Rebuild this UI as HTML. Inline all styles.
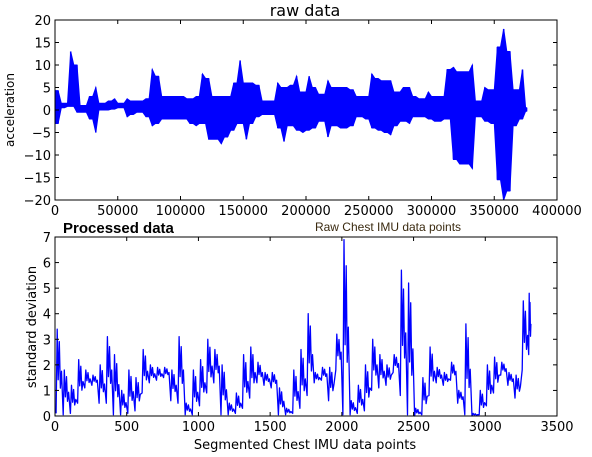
<!DOCTYPE html>
<html><head><meta charset="utf-8"><style>
html,body{margin:0;padding:0;background:#fff;}
svg{display:block;font-family:"DejaVu Sans","Liberation Sans",sans-serif;}
</style></head><body>
<svg id="fig" width="592" height="457" viewBox="0 0 592 457">
<text x="305" y="16" font-size="16" text-anchor="middle" fill="#000">raw data</text>
<text transform="translate(14,110) rotate(-90)" font-size="12" text-anchor="middle" fill="#000">acceleration</text>
<text x="388" y="231" font-size="12" text-anchor="middle" fill="#3a2a10" font-family="Liberation Sans, sans-serif">Raw Chest IMU data points</text>
<text x="63" y="233" font-size="15" font-weight="bold" fill="#000" font-family="Liberation Sans, sans-serif">Processed data</text>
<text transform="translate(36,327) rotate(-90)" font-size="13" text-anchor="middle" fill="#000">standard deviation</text>
<text x="305" y="449" font-size="13" text-anchor="middle" fill="#000">Segmented Chest IMU data points</text>
<g id="top"></g>
<g id="bot"></g>
</svg>
<script>
// raw data envelope, bins of 5000 samples
const rawBinStart = [0,5000,10000,15000,20000,25000,30000,35000,40000,45000,50000,55000,60000,65000,70000,75000,80000,85000,90000,95000,100000,105000,110000,115000,120000,125000,130000,135000,140000,145000,150000,155000,160000,165000,170000,175000,180000,185000,190000,195000,200000,205000,210000,215000,220000,225000,230000,235000,240000,245000,250000,255000,260000,265000,270000,275000,280000,285000,290000,295000,300000,305000,310000,315000,320000,325000,330000,335000,340000,345000,350000,355000,360000,365000,370000,375000];
const rawMax = [4.3,1.5,13,10,1,3,5,1.5,2,2.5,1.5,2.5,2,2,2.5,9,7.5,3,3,3,3,2.5,3,8,7,3,3,3,6,11,6,6,5.5,2,2,6,5,5.5,7.5,4,7.5,5,3.5,6.5,5,5,5,4.5,3,3,8,7,6.5,6.5,4,5,5,3,2.5,4,3,3,9,9.5,8.5,8.5,10,2,5,4.5,14,18,13,4.5,9,0.5];
const rawMin = [-3,0.5,0.8,-0.5,-0.5,-2,-5,0,0,0.2,0.5,-1.5,-1,-0.5,-1.5,-3.5,-3,-2,-2,-2,-2,-3,-3.5,-3,-6.5,-6.5,-7.5,-6,-4.5,-3,-6.5,-3,-1.5,-1,-1,-4,-7,-3.5,-4.5,-5,-4.5,-4,-2.5,-6,-3.5,-4,-4,-3.5,-1.5,-2,-4,-4.5,-5,-5.5,-3.5,-2.5,-3,-1.5,-1.5,-2,-2.5,-2.5,-2,-11,-12,-12,-13,-1.5,-2.5,-3,-15.5,-20,-18,-3.5,-2,-0.3];
const rawXTicks = [0,50000,100000,150000,200000,250000,300000,350000,400000];
const rawYTicks = [-20,-15,-10,-5,0,5,10,15,20];
// processed data envelope, bins of 50 segments
const procBinStart = [0,50,100,150,200,250,300,350,400,450,500,550,600,650,700,750,800,850,900,950,1000,1050,1100,1150,1200,1250,1300,1350,1400,1450,1500,1550,1600,1650,1700,1750,1800,1850,1900,1950,2000,2050,2100,2150,2200,2250,2300,2350,2400,2450,2500,2550,2600,2650,2700,2750,2800,2850,2900,2950,3000,3050,3100,3150,3200,3250,3300];
const procMax = [3.4,1.8,1.2,2.2,1.8,1.6,2.0,3.1,2.4,1.0,1.8,1.5,2.6,2.0,1.9,1.9,1.8,3.1,0.5,1.8,2.2,3.0,2.6,2.0,0.5,0.9,2.4,2.7,2.1,1.7,1.7,1.1,0.3,1.8,2.6,4.0,1.7,1.9,1.9,3.2,6.9,0.6,1.2,2.0,3.0,2.4,2.0,2.4,5.7,5.2,0.3,1.5,2.7,1.9,1.7,2.1,1.0,3.6,0.1,1.0,2.0,2.3,2.1,1.7,1.6,4.5,4.8];
const procMin = [0.1,0.05,0.1,0.5,1.1,1.2,0.5,0.5,0.05,0.05,0.1,0.2,0.9,1.3,1.4,1.5,0.6,0.5,0.05,0.05,0.4,0.9,1.3,0.05,0.05,0.1,0.3,0.7,1.3,1.2,1.1,0.05,0.05,0.1,0.3,0.8,1.3,1.4,0.6,1.8,0.05,0.05,0.1,0.2,1.0,1.1,1.2,1.7,0.8,0.05,0.0,0.05,0.8,1.3,1.2,1.4,0.5,0.05,0.0,0.05,0.4,0.9,1.6,1.2,0.7,1.8,2.4];
const procXTicks = [0,500,1000,1500,2000,2500,3000,3500];
const procYTicks = [0,1,2,3,4,5,6,7];

const NS='http://www.w3.org/2000/svg';
function mk(parent,tag,attrs){const e=document.createElementNS(NS,tag);for(const k in attrs)e.setAttribute(k,attrs[k]);parent.appendChild(e);return e;}

function drawAxes(g,box,sx,sy,xt,yt,prefix){
  const frame=mk(g,'rect',{x:box.l,y:box.t,width:box.r-box.l,height:box.b-box.t,fill:'none',stroke:'#000','stroke-width':'1'});
  
  
  xt.forEach(v=>{
    const x=sx(v);
    mk(g,'line',{x1:x,x2:x,y1:box.b,y2:box.b-4,stroke:'#000'});
    mk(g,'line',{x1:x,x2:x,y1:box.t,y2:box.t+4,stroke:'#000'});
    const t=mk(g,'text',{x:x,y:box.b+15,'font-size':'13','text-anchor':'middle',fill:'#000'});
    t.textContent=v;
    
    
  });
  yt.forEach(v=>{
    const y=sy(v);
    mk(g,'line',{x1:box.l,x2:box.l+4,y1:y,y2:y,stroke:'#000'});
    mk(g,'line',{x1:box.r,x2:box.r-4,y1:y,y2:y,stroke:'#000'});
    const t=mk(g,'text',{x:box.l-4,y:y+5,'font-size':'13','text-anchor':'end',fill:'#000'});
    t.textContent=(v<0?'\u2212'+(-v):v);
    
    
  });
}

// raw chart: filled envelope with spikes
(function(){
  const g=document.getElementById('top'), box={l:55,r:557,t:20,b:200};
  const sx=v=>box.l+v/400000*(box.r-box.l);
  const sy=v=>box.b-(v+20)/40*(box.b-box.t);
  const xEnd=376500, binW=5000;
  let up=[],lo=[];
  for(let i=0;i<rawBinStart.length;i++){
    const x0=sx(rawBinStart[i]), x1=sx(Math.min(rawBinStart[i]+binW,xEnd));
    const xm=(x0+x1)/2;
    up.push(x0.toFixed(1)+','+sy(Math.min(rawMax[i],i>0?rawMax[i-1]:rawMax[i])).toFixed(1));
    up.push(xm.toFixed(1)+','+sy(rawMax[i]).toFixed(1));
    lo.push(x0.toFixed(1)+','+sy(Math.max(rawMin[i],i>0?rawMin[i-1]:rawMin[i])).toFixed(1));
    lo.push(xm.toFixed(1)+','+sy(rawMin[i]).toFixed(1));
  }
  const poly=mk(g,'polygon',{points:up.concat(lo.reverse()).join(' '),fill:'#0000ff',stroke:'#0000ff','stroke-width':'1'});
  
  
  for(let i=0;i<rawBinStart.length;i++){
    const x=sx(rawBinStart[i]+Math.min(binW,xEnd-rawBinStart[i])/2);
    const ln=mk(g,'line',{x1:x,x2:x,y1:sy(rawMax[i]),y2:sy(rawMin[i]),stroke:'#0000ff','stroke-width':'1.5'});
    
    
  }
  drawAxes(g,box,sx,sy,rawXTicks,rawYTicks,'raw');
})();

// processed chart: zigzag line through bin max/min
(function(){
  const g=document.getElementById('bot'), box={l:55,r:557,t:237,b:416};
  const sx=v=>box.l+v/3500*(box.r-box.l);
  const sy=v=>box.b-v/7*(box.b-box.t);
  const xEnd=3320, binW=50;
  let pts=[];
  for(let i=0;i<procBinStart.length;i++){
    const w=Math.min(binW,xEnd-procBinStart[i]);
    const steps=[[0.15,procMin[i]],[0.3,procMax[i]],[0.45,(procMin[i]*0.6+procMax[i]*0.4)],[0.6,procMax[i]*0.85+procMin[i]*0.15],[0.75,procMin[i]*0.7+procMax[i]*0.3],[0.9,(procMin[i]+procMax[i])/2]];
    if(i%2) steps.forEach(s=>{}); 
    steps.forEach(s=>pts.push(sx(procBinStart[i]+w*s[0]).toFixed(1)+','+sy(s[1]).toFixed(1)));
  }
  const path=mk(g,'polyline',{points:pts.join(' '),fill:'none',stroke:'#0000ff','stroke-width':'1.3','stroke-linejoin':'round'});
  
  
  drawAxes(g,box,sx,sy,procXTicks,procYTicks,'processed');
})();
</script>
</body></html>
